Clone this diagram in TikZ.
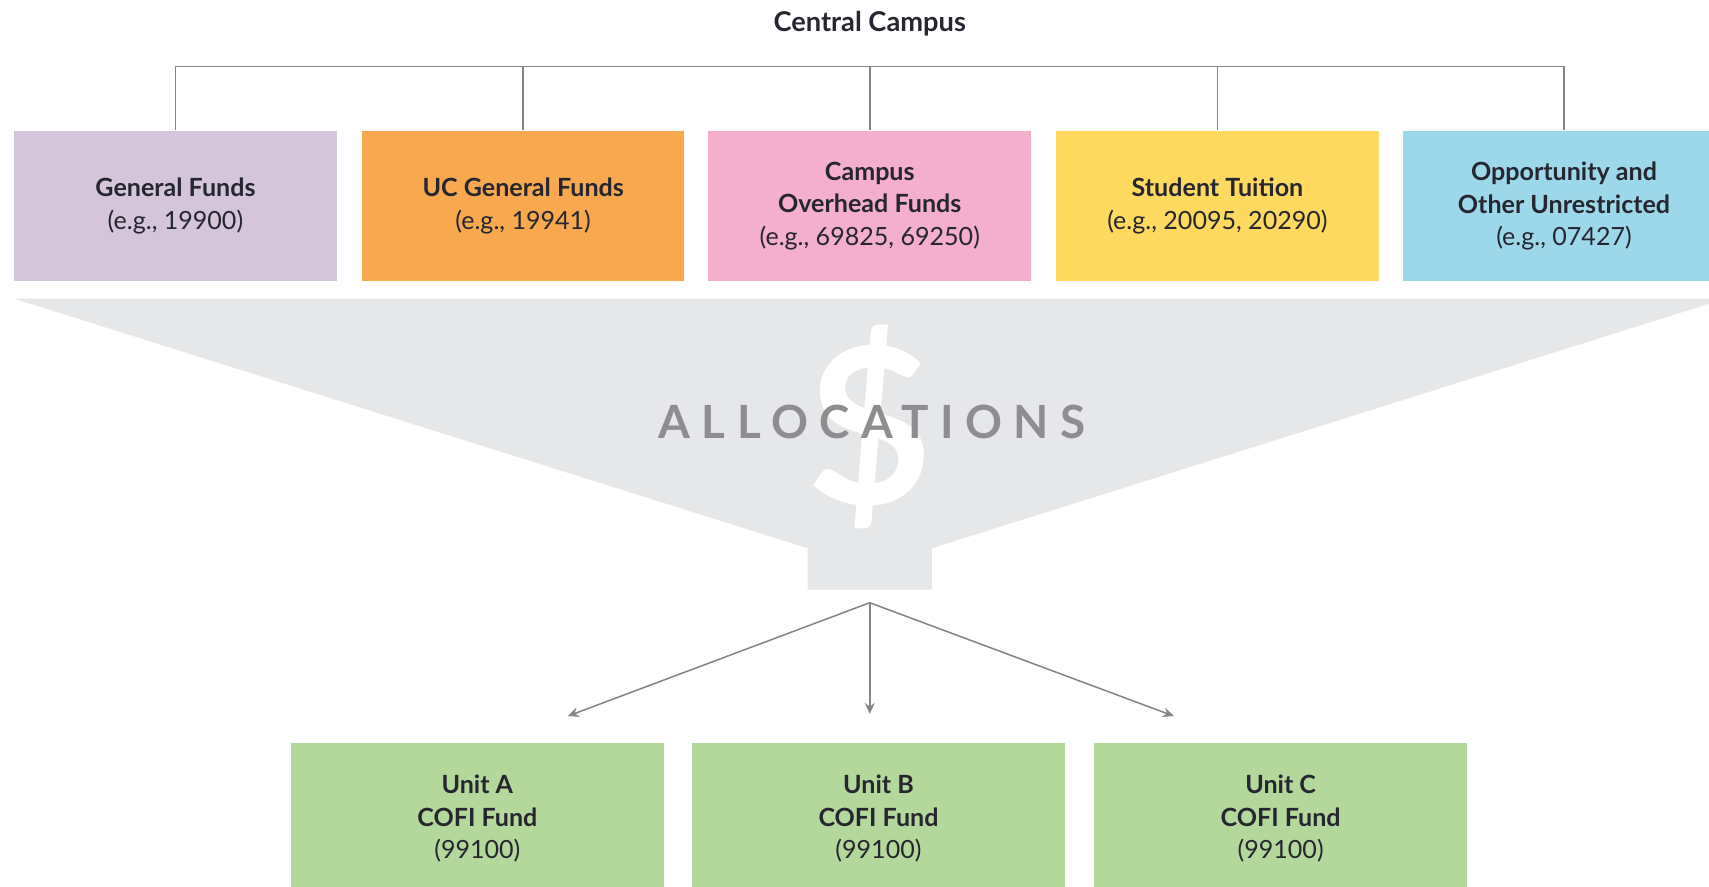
\documentclass[tikz,border=0pt]{standalone}
\usepackage{fontspec}
\setmainfont{Lato}
\usetikzlibrary{arrows.meta}
\definecolor{lav}{HTML}{D4C5DA}
\definecolor{ora}{HTML}{F8A94F}
\definecolor{pnk}{HTML}{F4AFCD}
\definecolor{yel}{HTML}{FDD960}
\definecolor{sky}{HTML}{9DD8EA}
\definecolor{cofi}{HTML}{B4D89B}
\definecolor{hopper}{HTML}{E6E7E8}
\definecolor{alloc}{HTML}{8E8E90}
\definecolor{wire}{HTML}{858585}
\definecolor{txt}{HTML}{262630}

\begin{document}
\begin{tikzpicture}[x=0.5pt,y=-0.5pt,
  fund/.style={minimum width=148pt,minimum height=69pt,inner sep=0pt,align=center,text=txt,
    font=\fontsize{11.5}{15}\selectfont},
  unit/.style={fund,minimum width=171pt,fill=cofi},
  link/.style={draw=wire,line width=0.7pt},
  flow/.style={link,-{Stealth[length=5pt,width=4.5pt]}}]
\useasboundingbox (0,0) rectangle (1568,813);
\clip (0,0) rectangle (1568,813);
\node[text=txt,font=\bfseries\fontsize{12.5}{15}\selectfont] (cc) at (798,22) {Central Campus};
\coordinate (bar) at (798,61);
\node[fund,fill=lav] (gf) at (161,189) {\textbf{General Funds}\\(e.g., 19900)};
\node[fund,fill=ora] (ucgf) at (480,189) {\textbf{UC General Funds}\\(e.g., 19941)};
\node[fund,fill=pnk] (cof) at (798,189) {\textbf{Campus}\\\textbf{Overhead Funds}\\(e.g., 69825, 69250)};
\node[fund,fill=yel] (st) at (1117,189) {\textbf{Student Tuition}\\(e.g., 20095, 20290)};
\node[fund,fill=sky] (oou) at (1435,189) {\textbf{Opportunity and}\\\textbf{Other Unrestricted}\\(e.g., 07427)};
\draw[link] (gf.north) |- (oou.north |- bar) -- (oou.north);
\draw[link] (ucgf.north) -- (ucgf.north |- bar);
\draw[link] (cof.north) -- (cof.north |- bar);
\draw[link] (st.north) -- (st.north |- bar);
\fill[hopper] (13,274) -- (1583,274) -- (855,503) -- (855,541) -- (741,541) -- (741,503) -- cycle;
\node[text=white,font=\bfseries\fontsize{100}{100}\selectfont] (dol) at (798,392) {\$};
\node[text=alloc,font=\bfseries\fontsize{21}{21}\selectfont\addfontfeatures{LetterSpace=25}] (al) at (800,387) {ALLOCATIONS};
\coordinate (split) at (798,553);
\coordinate (ta) at (521,657);
\coordinate (tb) at (798,655);
\coordinate (tc) at (1077,657);
\draw[flow] (split) -- (ta);
\draw[flow] (split) -- (tb);
\draw[flow] (split) -- (tc);
\node[unit] (ua) at (438,751) {\textbf{Unit A}\\\textbf{COFI Fund}\\(99100)};
\node[unit] (ub) at (806,751) {\textbf{Unit B}\\\textbf{COFI Fund}\\(99100)};
\node[unit] (uc) at (1175,751) {\textbf{Unit C}\\\textbf{COFI Fund}\\(99100)};
\end{tikzpicture}
\end{document}
